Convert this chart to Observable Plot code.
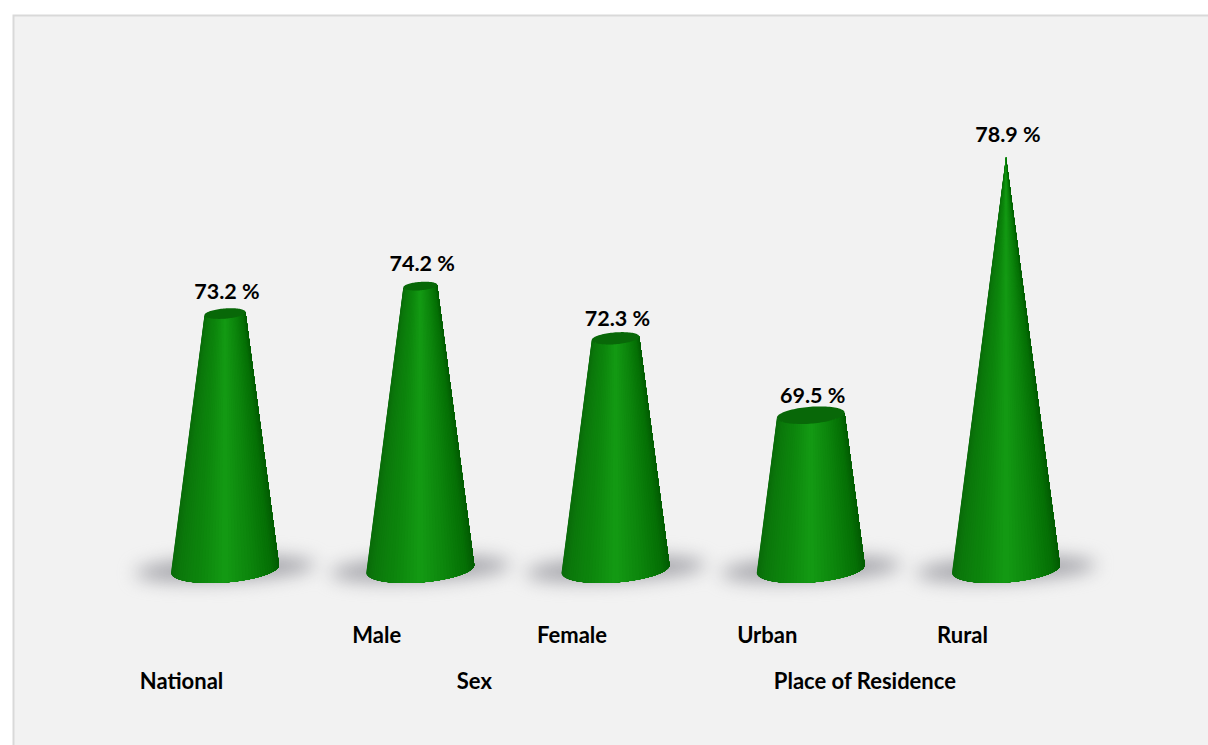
<!DOCTYPE html>
<html>
<head>
<meta charset="utf-8">
<script src="https://cdn.jsdelivr.net/npm/d3@7"></script>
<script src="https://cdn.jsdelivr.net/npm/@observablehq/plot@0.6"></script>
<style>html,body{margin:0;padding:0;background:#fff;overflow:hidden}svg{display:block}</style>
</head>
<body>
<script>
const categories = ["National", "Male", "Female", "Urban", "Rural"];
const values = [73.2, 74.2, 72.3, 69.5, 78.9];
const valueLabels = ["73.2 %", "74.2 %", "72.3 %", "69.5 %", "78.9 %"];
const axisRow1 = [["Male", 1], ["Female", 2], ["Urban", 3], ["Rural", 4]];
const axisRow2 = [["National", 0], ["Sex", 1.5], ["Place of Residence", 3.5]];
const domainY = [63.9, 78.9];

// cone solid: proportions in data units
const RX = 0.2766, RY = 0.49, TILT = 0.146, STRIPS = 48;
const apex = domainY[1], span = domainY[1] - domainY[0];
const shade = d3.scaleLinear()
  .domain([-1, -0.85, -0.4, 0, 0.45, 0.85, 1])
  .range(["#0a6c0a", "#0b780b", "#0d880d", "#149a14", "#0c860c", "#057005", "#035c03"]);
const pt = (i, s, th) => ({
  x: i + s * RX * Math.cos(th),
  y: apex - s * span + s * (TILT * Math.cos(th) - RY * Math.sin(th))
});
const strips = [], caps = [], shadows = [];
values.forEach((v, i) => {
  const s = (apex - v) / span;
  // each strip runs from its left edge to the cone's right side and is painted over by the next
  for (let k = 0; k < STRIPS; k++) {
    const a = Math.PI - (k / STRIPS) * Math.PI, m = Math.PI - ((k + 0.5) / STRIPS) * Math.PI;
    const color = shade(Math.cos(m));
    for (let j = 0; j <= 12; j++) {
      const th = a * (1 - j / 12), q = pt(i, 1, th), r = pt(i, s, th);
      strips.push({id: `${i}-${k}`, x1: q.x, y1: q.y, x2: r.x, y2: r.y, color});
    }
  }
  if (s > 0) for (let k = 0; k <= 48; k++) {
    const th = (k / 48) * Math.PI, p = pt(i, s, th), q = pt(i, s, -th);
    caps.push({id: i, x1: p.x, y1: p.y, x2: q.x, y2: q.y});
  }
  for (let k = 0; k <= 48; k++) {
    const th = (k / 48) * Math.PI, c = Math.cos(th), d = Math.sin(th);
    const sx = i + 0.46 * c;
    shadows.push({id: i, x1: sx, y1: apex - span + 0.16 * c + 0.44 * d, x2: sx, y2: apex - span + 0.16 * c - 0.44 * d});
  }
});
const lift = [-21.5, -22, -19.5, -19.5, -22.5];

const chart = Plot.plot({
  width: 1208, height: 745,
  marginLeft: 13, marginTop: 15, marginRight: -4, marginBottom: -4,
  x: {axis: null, domain: [0, 4], range: [225, 1006]},
  y: {axis: null, domain: domainY, range: [569, 157]},
  style: {background: "#ffffff", fontFamily: "Lato, sans-serif"},
  marks: [
    Plot.frame({fill: "#f2f2f2", stroke: "#d9d9d9", strokeWidth: 2}),
    Plot.area(shadows, {x1: "x1", y1: "y1", x2: "x2", y2: "y2", z: "id", fill: "#a4a4aa", imageFilter: "blur(9px)"}),
    Plot.area(strips, {x1: "x1", y1: "y1", x2: "x2", y2: "y2", z: "id", fill: "color"}),
    Plot.area(caps, {x1: "x1", y1: "y1", x2: "x2", y2: "y2", z: "id", fill: "#086808"}),
    ...values.map((v, i) => Plot.text([valueLabels[i]], {
      x: () => i, y: () => v, text: d => d, dy: lift[i], dx: 1.5,
      fontSize: 21.5, fontWeight: 700, fill: "#000", textAnchor: "middle"
    })),
    Plot.text(axisRow1, {x: d => d[1], text: d => d[0], frameAnchor: "bottom", dy: -107, dx: -44, fontSize: 22, fontWeight: 700, fill: "#000"}),
    Plot.text(axisRow2, {x: d => d[1], text: d => d[0], frameAnchor: "bottom", dy: -61, dx: -44, fontSize: 22, fontWeight: 700, fill: "#000"})
  ]
});
document.body.appendChild(chart);
</script>
</body>
</html>
